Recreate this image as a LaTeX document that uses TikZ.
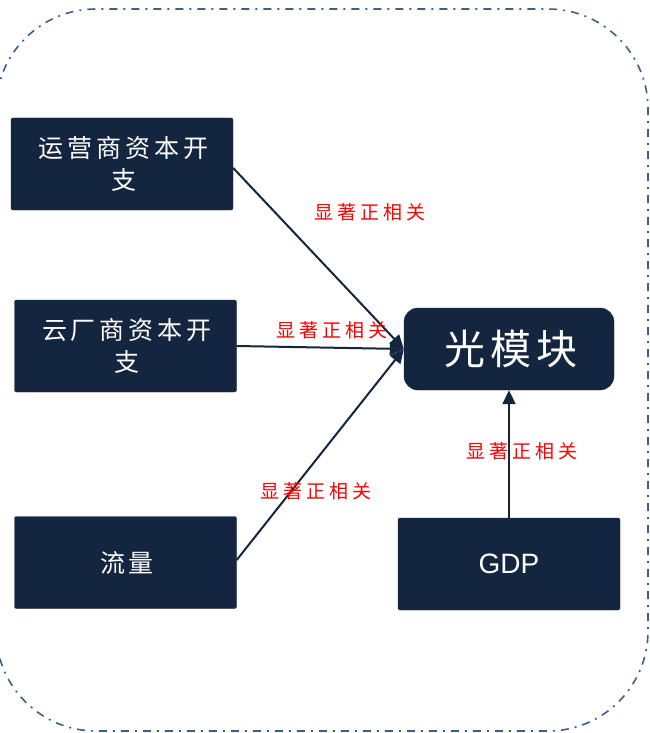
\documentclass[tikz,border=0pt]{standalone}
\usepackage{fontspec}
\newfontfamily\cjk[LetterSpace=16]{Noto Sans CJK SC}
\newfontfamily\cjkrel[LetterSpace=20]{Noto Sans CJK SC}
\newfontfamily\cjkbig[LetterSpace=12]{Noto Sans CJK SC}
\newfontfamily\latin{Liberation Sans}
\usetikzlibrary{arrows.meta}
\definecolor{navy}{HTML}{13253F}
\definecolor{frame}{HTML}{3D5F8C}
\tikzset{
  box/.style={fill=navy, draw=navy, minimum width=222pt, minimum height=92pt, text=white, align=center, font=\cjk\fontsize{25}{32}\selectfont, inner sep=0pt, rounded corners=2pt},
  modbox/.style={fill=navy, draw=navy, minimum width=210pt, minimum height=82pt, text=white, font=\cjkbig\fontsize{41}{44}\selectfont, rounded corners=14pt, inner sep=0pt},
  conn/.style={draw=navy, line width=2pt, -{Triangle[length=14pt,width=13pt]}},
  rel/.style={text=red, font=\cjkrel\fontsize{19}{20}\selectfont, inner sep=1pt},
  outline/.style={draw=frame, line width=1.6pt, dash pattern=on 8pt off 6pt on 2pt off 6pt, rounded corners=100pt}
}
\begin{document}
\begin{tikzpicture}[x=1pt,y=-1pt]
\useasboundingbox (0,0) rectangle (650,733);
\draw[outline] (-4,9) rectangle (648,731);
\node[box] (b1) at (122,164) {\hspace{3pt}运营商资本开\\\hspace{3pt}支};
\node[box] (b2) at (125.5,346) {\hspace{3pt}云厂商资本开\\\hspace{3pt}支};
\node[box] (b3) at (125.5,562.5) {\hspace{3pt}流量};
\node[box, font=\latin\fontsize{28}{32}\selectfont] (gdp) at (509,564) {GDP};
\node[modbox] (mod) at (509,349) {\hspace{4pt}光模块};
\draw[conn] (b1.east |- 0,168) -- (mod.west);
\draw[conn] (b2.east) -- (mod.west);
\draw[conn] (b3.east |- 0,560) -- (mod.west);
\draw[conn] (gdp.north) -- (mod.south);
\node[rel] (l1) at (370,212) {显著正相关};
\node[rel] (l2) at (332,330) {显著正相关};
\node[rel] (l3) at (316,491) {显著正相关};
\node[rel] (l4) at (522,451) {显著正相关};
\end{tikzpicture}
\end{document}
